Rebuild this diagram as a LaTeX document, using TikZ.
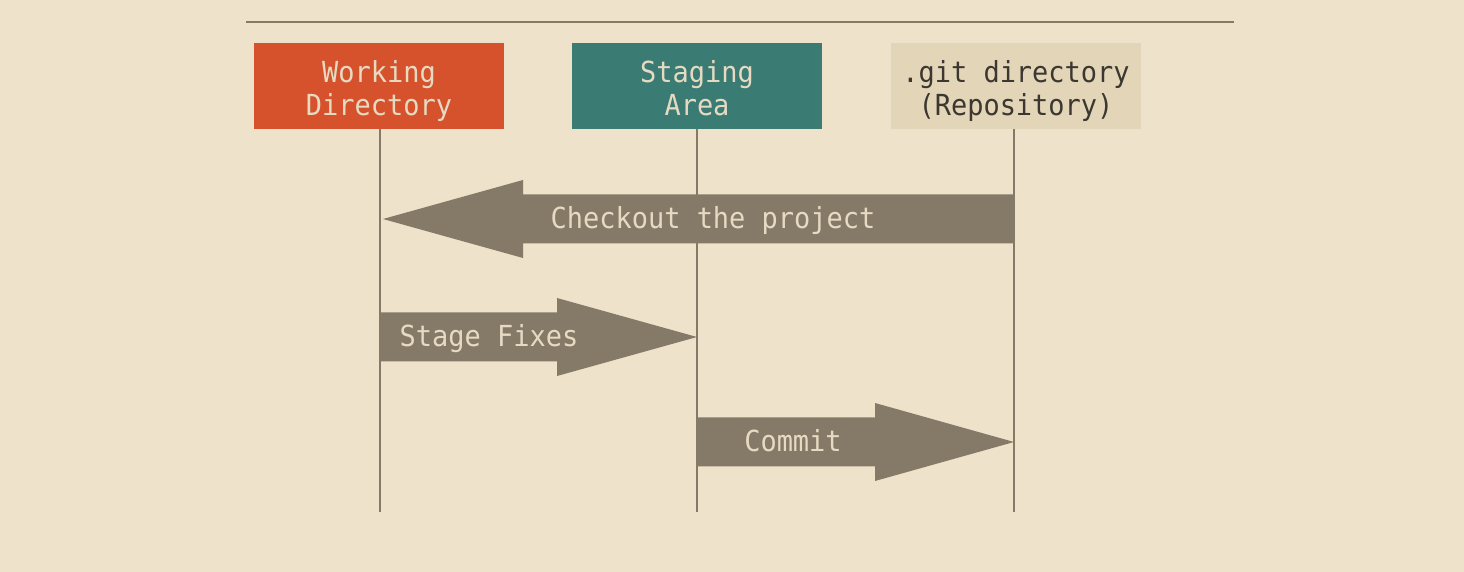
\documentclass[tikz,border=0pt]{standalone}
\usepackage{fontspec}
\setmonofont[FakeStretch=0.93]{DejaVu Sans Mono}
\definecolor{gitBack}{RGB}{238,226,203}
\definecolor{gitLine}{RGB}{133,122,103}
\definecolor{gitOrange}{RGB}{214,82,44}
\definecolor{gitTeal}{RGB}{58,123,116}
\definecolor{gitSand}{RGB}{227,214,184}
\definecolor{gitLight}{RGB}{230,218,194}
\definecolor{gitDark}{RGB}{60,55,48}

% two-line area caption with fixed top and bottom
\newcommand{\areatext}[2]{\rule{0pt}{17pt}#1\\#2\rule[-4pt]{0pt}{4pt}}

\tikzset{
    areabox/.style={minimum width=125pt, minimum height=43pt, inner sep=0pt, align=center,
        font=\ttfamily\fontsize{14.5}{16.5}\selectfont, text=gitLight},
    lifeline/.style={draw=gitLine, line width=1pt},
    fatarrow/.style={fill=gitLine},
    arrowlabel/.style={font=\ttfamily\fontsize{14.5}{16.5}\selectfont, text=gitLight,
        inner sep=0pt, text height=14pt, text depth=4pt}
}

\begin{document}
\begin{tikzpicture}[x=0.5pt, y=-0.5pt]
    % Background and top rule
    \fill[gitBack] (0,0) rectangle (1464,572);
    \useasboundingbox (0,0) rectangle (1464,572);
    \draw[gitLine, line width=1pt] (246,22) -- (1234,22);

    % Areas
    \node[areabox, fill=gitOrange] (wdir) at (379,86) {\areatext{Working}{Directory}};
    \node[areabox, fill=gitTeal] (stage) at (697,86) {\areatext{Staging}{Area}};
    \node[areabox, fill=gitSand, text=gitDark] (repo) at (1016,86) {\areatext{.git directory}{(Repository)}};

    % Lifelines
    \coordinate (wdirEnd) at (380,512);
    \coordinate (stageEnd) at (697,512);
    \coordinate (repoEnd) at (1014,512);
    \draw[lifeline] (wdirEnd |- wdir.south) -- (wdirEnd);
    \draw[lifeline] (stageEnd |- stage.south) -- (stageEnd);
    \draw[lifeline] (repoEnd |- repo.south) -- (repoEnd);

    % Points on the lifelines
    \coordinate (repoA) at (1014,219);
    \coordinate (wdirA) at (383,219);
    \coordinate (wdirB) at (380,337);
    \coordinate (stageB) at (697,337);
    \coordinate (stageC) at (697,442);
    \coordinate (repoC) at (1014,442);

    % Checkout the project
    \fill[fatarrow] (repoA) -- ++(0,-24.5) -- ++(-491,0) -- ++(0,-14.5) -- (wdirA)
        -- ++(140,39) -- ++(0,-14.5) -- ++(491,0) -- cycle;
    \node[arrowlabel] (checkout) at (713,219) {Checkout the project};

    % Stage Fixes
    \fill[fatarrow] (wdirB) -- ++(0,-24.5) -- ++(177,0) -- ++(0,-14.5) -- (stageB)
        -- ++(-140,39) -- ++(0,-14.5) -- ++(-177,0) -- cycle;
    \node[arrowlabel] (stagefix) at (489,337) {Stage Fixes};

    % Commit
    \fill[fatarrow] (stageC) -- ++(0,-24.5) -- ++(178,0) -- ++(0,-14.5) -- (repoC)
        -- ++(-139,39) -- ++(0,-14.5) -- ++(-178,0) -- cycle;
    \node[arrowlabel] (commit) at (793,442) {Commit};
\end{tikzpicture}
\end{document}
